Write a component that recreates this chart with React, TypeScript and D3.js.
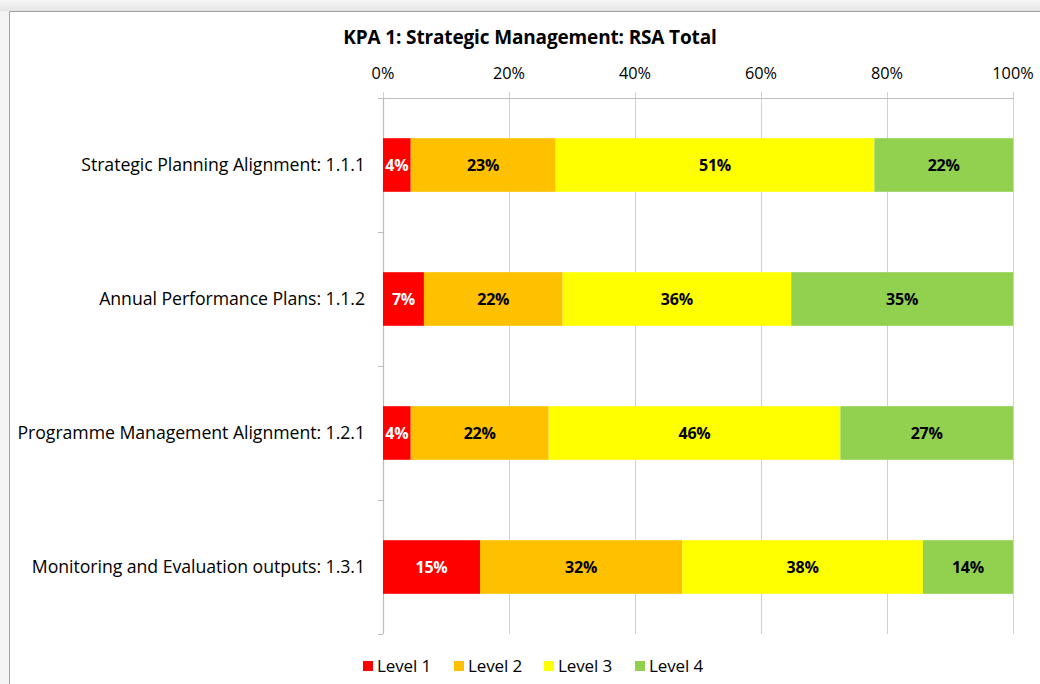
import React from "react";
import * as d3 from "d3";

const title = "KPA 1: Strategic Management: RSA Total";
const categories = [
  "Strategic Planning Alignment: 1.1.1",
  "Annual Performance Plans: 1.1.2",
  "Programme Management Alignment: 1.2.1",
  "Monitoring and Evaluation outputs: 1.3.1",
];
const seriesNames = ["Level 1", "Level 2", "Level 3", "Level 4"];
const seriesColors = ["#FF0000", "#FFC000", "#FFFF00", "#92D050"];
const labelColors = ["#FFFFFF", "#000000", "#000000", "#000000"];
const level1 = [4.4, 6.5, 4.4, 15.4];
const level2 = [23.0, 22.0, 21.9, 32.1];
const level3 = [50.6, 36.3, 46.3, 38.2];
const level4 = [22.0, 35.2, 27.4, 14.3];
const xTicks = [0, 20, 40, 60, 80, 100];

const W = 1040;
const H = 684;
const FONT = "'Open Sans', Lato, sans-serif";

export default function App() {
  const x = d3.scaleLinear().domain([0, 100]).range([383, 1013]);
  const y = d3
    .scaleBand<string>()
    .domain(categories)
    .range([98, 634])
    .paddingInner(0.6)
    .paddingOuter(0.3);

  const rows = categories.map((c, i) => ({
    cat: c,
    l1: level1[i],
    l2: level2[i],
    l3: level3[i],
    l4: level4[i],
  }));
  const keys = ["l1", "l2", "l3", "l4"];
  const stacked = d3.stack<any>().keys(keys)(rows);

  const step = y.step();
  const boundaries = d3.range(categories.length + 1).map((k) => 98 + k * step);

  const legendX = [363, 454, 544, 635];

  return (
    <svg
      width={W}
      height={H}
      style={{ position: "absolute", left: 0, top: 0, background: "#fff" }}
      fontFamily={FONT}
    >
      <defs>
        <linearGradient id="topShade" x1="0" y1="0" x2="0" y2="1">
          <stop offset="0" stopColor="#f7f7f7" />
          <stop offset="1" stopColor="#e4e4e4" />
        </linearGradient>
      </defs>
      <rect x={0} y={0} width={W} height={11} fill="url(#topShade)" />
      <rect x={0} y={11} width={9} height={H} fill="#f4f4f4" />
      <rect
        x={9.5}
        y={11.5}
        width={W + 10}
        height={H + 10}
        fill="#ffffff"
        stroke="#a0a0a0"
        strokeWidth={1}
      />

      <text
        x={530}
        y={44}
        textAnchor="middle"
        fontSize={19}
        fontWeight="bold"
        fill="#000"
        letterSpacing={-0.15}
      >
        {title}
      </text>

      {xTicks.map((t) => (
        <line
          key={"g" + t}
          x1={x(t) + 0.5}
          x2={x(t) + 0.5}
          y1={92}
          y2={634}
          stroke="#d0d0d0"
          strokeWidth={1}
        />
      ))}
      <line x1={378} x2={1014} y1={98.5} y2={98.5} stroke="#bdbdbd" strokeWidth={1.2} />
      <line x1={383.5} x2={383.5} y1={98} y2={634} stroke="#bdbdbd" strokeWidth={1.2} />
      {boundaries.map((b, i) => (
        <line key={"cb" + i} x1={378} x2={383} y1={b + 0.5} y2={b + 0.5} stroke="#bdbdbd" />
      ))}

      {xTicks.map((t) => (
        <text
          key={"t" + t}
          x={x(t)}
          y={79}
          textAnchor="middle"
          fontSize={16.3}
          fill="#000"
        >
          {t + "%"}
        </text>
      ))}

      {categories.map((c) => (
        <text
          key={c}
          x={365}
          y={(y(c) as number) + y.bandwidth() / 2 + 6}
          textAnchor="end"
          fontSize={17.7}
          fill="#000"
          letterSpacing={-0.05}
        >
          {c}
        </text>
      ))}

      {stacked.map((s, si) =>
        s.map((d: any, i: number) => {
          const x0 = x(d[0]);
          const x1 = x(d[1]);
          const yy = y(categories[i]) as number;
          return (
            <g key={si + "-" + i}>
              <rect
                x={x0}
                y={yy}
                width={x1 - x0}
                height={y.bandwidth()}
                fill={seriesColors[si]}
              />
              <text
                x={(x0 + x1) / 2}
                y={yy + y.bandwidth() / 2 + 5.5}
                textAnchor="middle"
                fontSize={16}
                fontWeight="bold"
                fill={labelColors[si]}
                letterSpacing={-0.2}
              >
                {Math.round(d[1] - d[0]) + "%"}
              </text>
            </g>
          );
        })
      )}

      {seriesNames.map((n, i) => (
        <g key={n}>
          <rect x={legendX[i]} y={661} width={10} height={10} fill={seriesColors[i]} />
          <text x={legendX[i] + 14} y={672} fontSize={17} fill="#000" letterSpacing={-0.1}>
            {n}
          </text>
        </g>
      ))}
    </svg>
  );
}
